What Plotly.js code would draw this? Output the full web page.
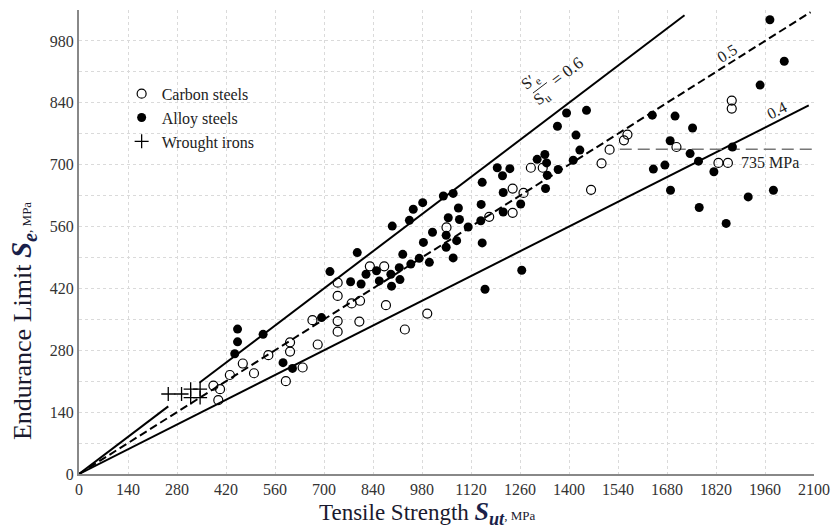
<!DOCTYPE html>
<html>
<head>
<meta charset="utf-8">
<script src="https://cdn.plot.ly/plotly-3.0.1.min.js"></script>
<style>html,body{margin:0;padding:0;background:#fff;}#chart{width:840px;height:529px;}</style>
</head>
<body>
<div id="chart"></div>
<script>
// ---- data (MPa) ----
const carbonX = [384,403,398,431,468,500,541,603,603,591,639,667,682,739,739,739,739,779,803,801,831,872,877,931,995,1050,1172,1239,1270,1239,1291,1325,1463,1493,1516,1557,1567,1707,1827,1854,1865,1865];
const carbonY = [200,192,167,224,250,228,269,298,277,210,241,348,293,433,403,346,322,386,392,345,470,470,382,327,363,558,582,646,636,591,693,693,643,703,734,755,768,740,704,704,845,827];

const alloyX = [453,453,445,526,583,610,693,717,795,776,806,820,850,858,893,891,915,917,925,948,972,1001,984,1010,895,944,955,982,1041,1069,1084,1055,1087,1049,1079,1049,1069,1112,1148,1149,1152,1152,1212,1212,1195,1210,1231,1262,1309,1331,1336,1338,1333,1369,1367,1265,1160,1393,1450,1420,1431,1412,1638,1703,1753,1689,1746,1770,1641,1674,1690,1772,1814,1867,1849,1912,1984,1946,2015,1974];
const alloyY = [328,299,272,316,252,239,354,458,501,435,430,452,460,437,425,452,467,440,497,475,488,479,524,547,561,574,599,614,629,635,602,580,576,540,528,513,489,559,573,610,660,523,637,593,693,675,691,611,712,723,704,676,646,689,787,461,418,817,823,767,733,710,812,810,783,754,725,708,690,699,642,603,684,740,567,627,642,880,934,1028];

const ironX = [255,293,319,346,319,346];
const ironY = [181,181,192,192,173,173];

// ratio lines S'e/Su and their drawn extents
const ratio06 = 0.6, ratio06X = [0,255,null,344,1730];
const ratio05 = 0.5, ratio05X = [0,2090];
const ratio04 = 0.4, ratio04X = [0,2085];
const limitY = 735, limitX = [1545,2095];

const xTicks = [0,140,280,420,560,700,840,980,1120,1260,1400,1540,1680,1820,1960,2100];
const yTicks = [0,140,280,420,560,700,840,980];

const serif = "Liberation Serif";
const yOf = (xs, r) => xs.map(v => v === null ? null : v * r);

const traces = [
  {x: ratio06X, y: yOf(ratio06X, ratio06), mode:'lines', line:{color:'#000', width:2}, showlegend:false, hoverinfo:'skip'},
  {x: ratio05X, y: yOf(ratio05X, ratio05), mode:'lines', line:{color:'#000', width:2, dash:'8px,4px'}, showlegend:false, hoverinfo:'skip'},
  {x: ratio04X, y: yOf(ratio04X, ratio04), mode:'lines', line:{color:'#000', width:2}, showlegend:false, hoverinfo:'skip'},
  {x: limitX, y: limitX.map(() => limitY), mode:'lines', line:{color:'#777', width:1.5, dash:'12px,6px'}, showlegend:false, hoverinfo:'skip'},
  {x: carbonX, y: carbonY, mode:'markers', name:'Carbon steels',
   marker:{symbol:'circle-open', size:9, color:'#000', line:{width:1.2}}},
  {x: alloyX, y: alloyY, mode:'markers', name:'Alloy steels',
   marker:{symbol:'circle', size:9, color:'#000'}},
  {x: ironX, y: ironY, mode:'markers', name:'Wrought irons',
   marker:{symbol:'cross-thin-open', size:10, color:'#000', line:{width:1.3, color:'#000'}}}
];

const layout = {
  width: 840, height: 529,
  margin: {l:79, r:26, t:10, b:55},
  paper_bgcolor:'#fff', plot_bgcolor:'#fff',
  font: {family: serif, color:'#222', size:15},
  showlegend: true,
  legend: {x:0.058, y:0.856, xanchor:'left', yanchor:'top', bgcolor:'rgba(0,0,0,0)',
           font:{family:serif, size:16, color:'#222'}, tracegroupgap:0},
  xaxis: {range:[0,2100], tickvals:xTicks, ticks:'', showline:true, linecolor:'#888', linewidth:2,
          showgrid:true, gridcolor:'#dadada', griddash:'dot', gridwidth:1, zeroline:false,
          tickfont:{family:serif, size:16, color:'#333'}, fixedrange:true},
  yaxis: {range:[0,1050], tickvals:yTicks, ticks:'', showline:true, linecolor:'#888', linewidth:2,
          showgrid:true, gridcolor:'#dadada', griddash:'dot', gridwidth:1, zeroline:false,
          minor:{dtick:70, showgrid:true, gridcolor:'#dadada', griddash:'dot', gridwidth:1},
          tickfont:{family:serif, size:16, color:'#333'}, fixedrange:true},
  shapes: [
    {type:'line', xref:'x', yref:'y', x0:1297, y0:862, x1:1337, y1:886, line:{color:'#222', width:1}}
  ],
  annotations: [
    {xref:'paper', yref:'paper', x:0.4735, y:-0.084, xanchor:'center', yanchor:'middle', showarrow:false,
     text:"Tensile Strength <b><i><span style='font-size:26px;color:#1a1f4a'>S<sub>ut</sub></span></i></b><span style='font-size:13px'>, MPa</span>",
     font:{family:serif, size:23, color:'#1a1a2e'}},
    {xref:'paper', yref:'paper', x:-0.076, y:0.33, xanchor:'center', yanchor:'middle', showarrow:false, textangle:-90,
     text:"Endurance Limit <b><i><span style='font-size:29px;color:#1a1f4a'>S<sub>e</sub></span></i></b><span style='font-size:13px'>, MPa</span>",
     font:{family:serif, size:26, color:'#1a1a2e'}},
    {xref:'x', yref:'y', x:1974, y:705, showarrow:false, text:'735 MPa', font:{family:serif, size:16, color:'#222'}},
    {xref:'x', yref:'y', x:1850, y:952, showarrow:false, text:'0.5', textangle:-32, font:{family:serif, size:16, color:'#222'}},
    {xref:'x', yref:'y', x:1993, y:822, showarrow:false, text:'0.4', textangle:-27, font:{family:serif, size:16, color:'#222'}},
    {xref:'x', yref:'y', x:1290, y:888, showarrow:false, text:'S′<sub>e</sub>', textangle:-37, font:{family:serif, size:16, color:'#222'}},
    {xref:'x', yref:'y', x:1322, y:853, showarrow:false, text:'S<sub>u</sub>', textangle:-37, font:{family:serif, size:16, color:'#222'}},
    {xref:'x', yref:'y', x:1395, y:910, showarrow:false, text:'= 0.6', textangle:-37, font:{family:serif, size:17, color:'#222'}}
  ]
};

Plotly.newPlot('chart', traces, layout, {displayModeBar:false, staticPlot:true});
</script>
</body>
</html>
